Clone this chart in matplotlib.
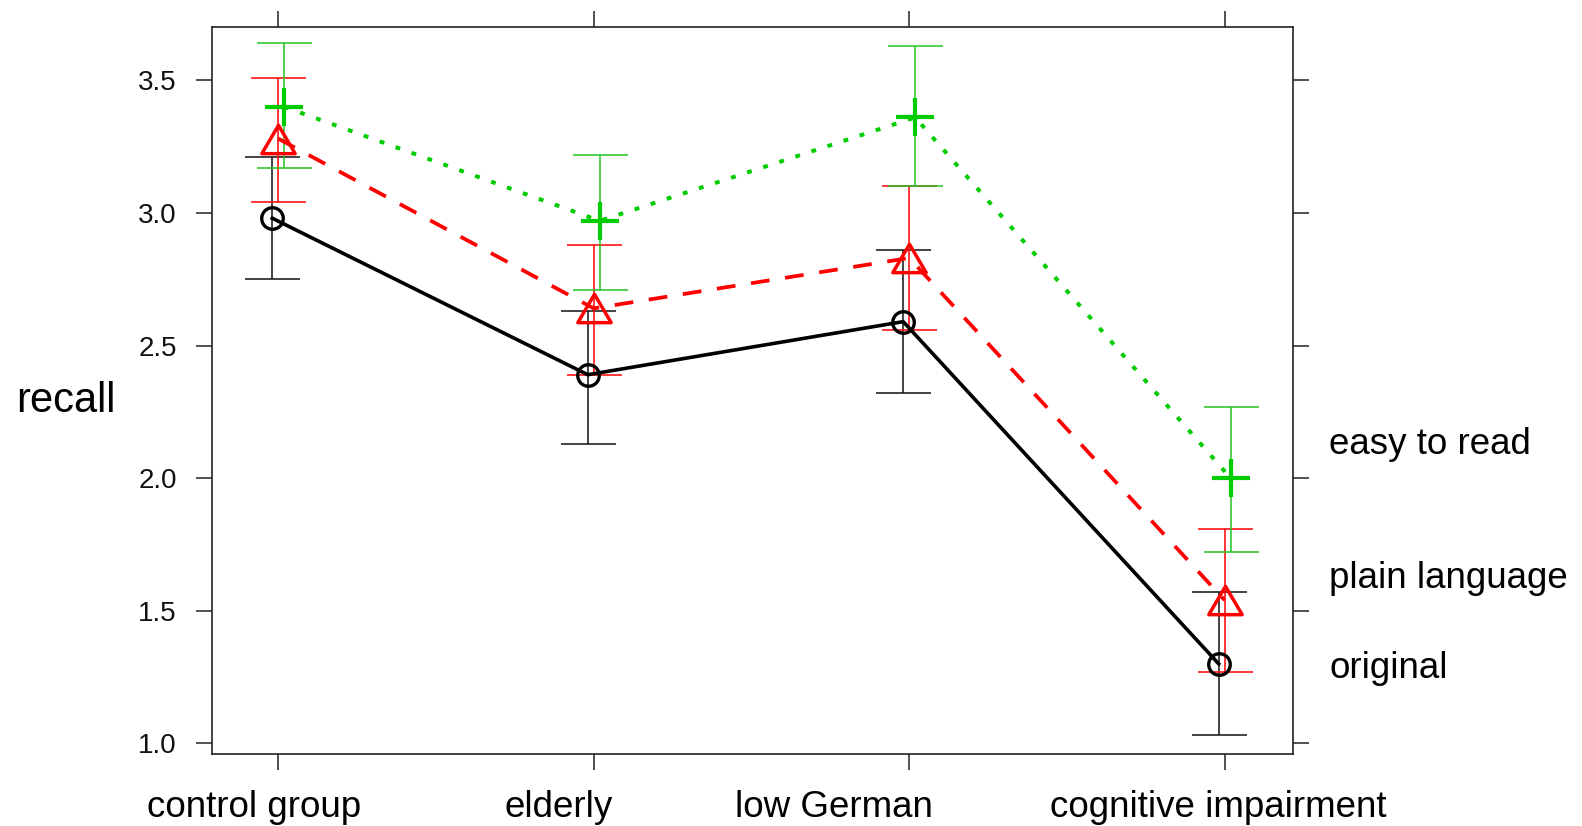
import matplotlib
matplotlib.use("Agg")
import matplotlib.pyplot as plt
from matplotlib.path import Path
import numpy as np

plt.rcParams['font.family'] = ['Liberation Sans', 'DejaVu Sans']

# data
groups = ["control group", "elderly", "low German", "cognitive impairment"]
series = ["original", "plain language", "easy to read"]

original = [2.98, 2.39, 2.59, 1.30]
original_lo = [2.75, 2.13, 2.32, 1.03]
original_hi = [3.21, 2.63, 2.86, 1.57]

plain = [3.28, 2.64, 2.83, 1.54]
plain_lo = [3.04, 2.39, 2.56, 1.27]
plain_hi = [3.51, 2.88, 3.10, 1.81]

easy = [3.40, 2.97, 3.36, 2.00]
easy_lo = [3.17, 2.71, 3.10, 1.72]
easy_hi = [3.64, 3.22, 3.63, 2.27]

yticks = [1.0, 1.5, 2.0, 2.5, 3.0, 3.5]

W, H = 1582, 826
fig = plt.figure(figsize=(W / 100, H / 100), dpi=100)
ax = fig.add_axes([211.7 / W, (H - 754) / H, (1292.5 - 211.7) / W, (754 - 26.7) / H])

x = np.arange(len(groups))
# open triangle like R's pch 2
tri = Path([(-1, -0.85), (1, -0.85), (0, 0.85), (-1, -0.85)], closed=True)

styles = [
    # vals, lo, hi, colour, errcolour, dodge, line kwargs, marker kwargs
    (original, original_lo, original_hi, "black", "#111111", -0.019,
     dict(linestyle="-", lw=2.6),
     dict(marker="o", ms=15.5, mew=2.4, mfc="none")),
    (plain, plain_lo, plain_hi, "#ff0000", "#ff0000", 0.0,
     dict(linestyle=(0, (5.0, 4.2)), lw=2.7),
     dict(marker=tri, ms=24, mew=2.5, mfc="none")),
    (easy, easy_lo, easy_hi, "#00cc00", "#22c422", 0.019,
     dict(linestyle=(0, (1.2, 3.0)), lw=2.9),
     dict(marker="+", ms=27, mew=3.0)),
]

for vals, lo, hi, col, ecol, dx, lkw, mkw in styles:
    v = np.array(vals)
    xs = x + dx
    yerr = [v - np.array(lo), np.array(hi) - v]
    ax.errorbar(xs, v, yerr=yerr, fmt="none", ecolor=ecol, elinewidth=1.1,
                capsize=19.8, capthick=1.1, zorder=2)
    ax.plot(xs, v, color=col, dash_capstyle="butt", zorder=3, **lkw)
    ax.plot(xs, v, linestyle="none", color=col, mec=col, zorder=4, **mkw)

ax.set_xlim(-0.211, 3.215)
ax.set_ylim(0.960, 3.702)

ax.set_yticks(yticks)
ax.set_yticklabels([f"{t:.1f}" for t in yticks], fontsize=20, color="#111111")
ax.set_xticks(x)
ax.set_xticklabels([])

ax.tick_params(axis="both", direction="out", length=11.5, width=1.1, color="#222222")
ax.tick_params(axis="y", pad=13.5, right=True, labelright=False)
ax.tick_params(axis="x", top=True, labeltop=False)
for s in ax.spines.values():
    s.set_linewidth(1.2)
    s.set_color("#222222")

# category labels (placed as in the original, not centred on ticks)
label_x = [254.5, 559, 834, 1218.6]
for lab, px in zip(groups, label_x):
    fig.text(px / W, (H - 816.7) / H, lab, ha="center", va="baseline", fontsize=26.5)

fig.text(16 / W, (H - 411.7) / H, "recall", ha="left", va="baseline", fontsize=30)

# key on the right
key_y = [454, 588.3, 678.3]
for lab, py in zip(series[::-1], key_y):
    fig.text(1329.3 / W, (H - py) / H, lab, ha="left", va="baseline", fontsize=26.5)

fig.savefig("out.png", dpi=100)
